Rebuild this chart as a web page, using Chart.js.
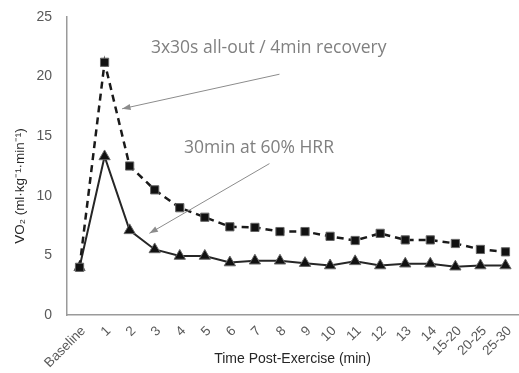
<!DOCTYPE html>
<html>
<head>
<meta charset="utf-8">
<script src="https://cdn.jsdelivr.net/npm/chart.js@4"></script>
<style>
  html, body { margin: 0; padding: 0; background: #fff; }
  #wrap { width: 519px; height: 373px; }
</style>
</head>
<body>
<div id="wrap"><canvas id="vo2Chart" width="519" height="373"></canvas></div>
<script>
// categories and values
const timeLabels = ["Baseline", "1", "2", "3", "4", "5", "6", "7", "8", "9", "10",
  "11", "12", "13", "14", "15-20", "20-25", "25-30"];
const sprintVO2 = [4.0, 21.2, 12.5, 10.5, 9.0, 8.2, 7.4, 7.35, 7.0, 7.0, 6.6,
  6.25, 6.85, 6.3, 6.3, 6.0, 5.5, 5.3];
const moderateVO2 = [4.0, 13.3, 7.1, 5.5, 4.95, 4.95, 4.4, 4.55, 4.55, 4.35, 4.15,
  4.5, 4.15, 4.3, 4.3, 4.05, 4.15, 4.15];
const yTicks = [0, 5, 10, 15, 20, 25];

// annotation text + arrows, in data units (category index, VO2)
const notes = [
  { text: "3x30s all-out / 4min recovery", at: [2.85, 22.4], from: [7.98, 20.2], to: [1.7, 17.3] },
  { text: "30min at 60% HRR", at: [4.17, 14.0], from: [7.58, 12.7], to: [2.79, 6.85] }
];

const grey = "#595959";

const notesPlugin = {
  id: "notes",
  afterDatasetsDraw(chart) {
    const ctx = chart.ctx;
    const xs = chart.scales.x, ys = chart.scales.y;
    ctx.save();
    notes.forEach(n => {
      const x1 = xs.getPixelForValue(n.from[0]), y1 = ys.getPixelForValue(n.from[1]);
      const x2 = xs.getPixelForValue(n.to[0]), y2 = ys.getPixelForValue(n.to[1]);
      ctx.strokeStyle = "#8c8c8c";
      ctx.fillStyle = "#8c8c8c";
      ctx.lineWidth = 1;
      ctx.beginPath();
      ctx.moveTo(x1, y1);
      ctx.lineTo(x2, y2);
      ctx.stroke();
      // arrow head
      const a = Math.atan2(y2 - y1, x2 - x1);
      ctx.beginPath();
      ctx.moveTo(x2, y2);
      ctx.lineTo(x2 - 9 * Math.cos(a - 0.35), y2 - 9 * Math.sin(a - 0.35));
      ctx.lineTo(x2 - 9 * Math.cos(a + 0.35), y2 - 9 * Math.sin(a + 0.35));
      ctx.closePath();
      ctx.fill();
      // label
      ctx.font = "17.5px 'Open Sans'";
      ctx.fillStyle = "#808080";
      ctx.textAlign = "left";
      ctx.textBaseline = "middle";
      ctx.fillText(n.text, xs.getPixelForValue(n.at[0]), ys.getPixelForValue(n.at[1]));
    });
    // y axis title
    ctx.translate(20, 186);
    ctx.rotate(-Math.PI / 2);
    ctx.font = "13.5px 'Liberation Sans'";
    ctx.fillStyle = "#262626";
    ctx.textAlign = "center";
    ctx.textBaseline = "middle";
    ctx.fillText("VO\u2082 (ml\u00b7kg\u207b\u00b9\u00b7min\u207b\u00b9)", 0, 0);
    ctx.restore();
  }
};

new Chart(document.getElementById("vo2Chart").getContext("2d"), {
  type: "line",
  data: {
    labels: timeLabels,
    datasets: [
      {
        label: "3x30s all-out / 4min recovery",
        data: sprintVO2,
        borderColor: "#1a1a1a",
        borderWidth: 2.5,
        borderDash: [7, 5],
        pointStyle: "rect",
        pointRadius: 5.8,
        pointBackgroundColor: "#111",
        pointBorderColor: "#666",
        pointBorderWidth: 1,
        tension: 0
      },
      {
        label: "30min at 60% HRR",
        data: moderateVO2,
        borderColor: "#262626",
        borderWidth: 2,
        pointStyle: "triangle",
        pointRadius: 6.5,
        pointBackgroundColor: "#111",
        pointBorderColor: "#666",
        pointBorderWidth: 1,
        tension: 0
      }
    ]
  },
  options: {
    responsive: false,
    animation: false,
    layout: { autoPadding: false, padding: { top: 17, right: 1, left: 0, bottom: 0 } },
    plugins: {
      legend: { display: false },
      tooltip: { enabled: false }
    },
    scales: {
      x: {
        offset: true,
        grid: { display: false, drawTicks: false },
        border: { display: true, color: "#9a9a9a", width: 1.5 },
        ticks: {
          color: grey,
          font: { family: "Liberation Sans", size: 13.5 },
          minRotation: 45,
          maxRotation: 45,
          padding: 8,
          labelOffset: 4,
          autoSkip: false
        },
        title: {
          display: true,
          text: "Time Post-Exercise (min)",
          color: "#262626",
          font: { family: "Liberation Sans", size: 14 },
          padding: { top: 0, bottom: 5 }
        },
        afterFit: s => { s.height = 58; s.paddingLeft = 0; s.paddingRight = 0; }
      },
      y: {
        min: 0,
        max: 25,
        afterBuildTicks: s => { s.ticks = yTicks.map(v => ({ value: v })); },
        grid: { display: false, drawTicks: false },
        border: { display: true, color: "#9a9a9a", width: 1.5 },
        ticks: {
          color: grey,
          font: { family: "Liberation Sans", size: 14 },
          padding: 15
        },
        afterFit: s => { s.width = 67; s.paddingTop = 0; s.paddingBottom = 0; }
      }
    }
  },
  plugins: [notesPlugin]
});
</script>
</body>
</html>
